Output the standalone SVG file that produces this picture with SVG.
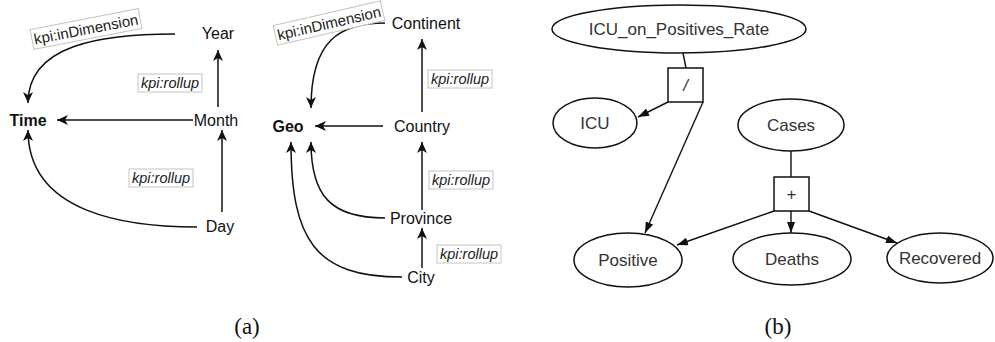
<svg xmlns="http://www.w3.org/2000/svg" width="995" height="342" viewBox="0 0 995 342">
<style>
.n{font-family:"Liberation Sans",Arial,sans-serif;font-size:16px;fill:#111;text-anchor:middle;dominant-baseline:central}
.b{font-weight:bold}
.el{font-family:"Liberation Sans",Arial,sans-serif;font-size:14.5px;font-style:italic;fill:#222;text-anchor:middle;dominant-baseline:central}
.ed{font-family:"Liberation Sans",Arial,sans-serif;font-size:15px;fill:#222;text-anchor:middle;dominant-baseline:central}
.lb{fill:#fff;stroke:#c4c4c4;stroke-width:1}
.ca{fill:none;stroke:#111;stroke-width:1.5;marker-end:url(#ah)}
.g{fill:none;stroke:#111;stroke-width:1.4}
.ga{fill:none;stroke:#111;stroke-width:1.4;marker-end:url(#gh)}
.e{fill:#fff;stroke:#111;stroke-width:1.5}
.t{font-family:"Liberation Sans",Arial,sans-serif;font-size:17px;fill:#333;text-anchor:middle;dominant-baseline:central}
.cap{font-family:"Liberation Serif","Times New Roman",serif;font-size:23px;fill:#111;text-anchor:middle}
</style>
<defs>
<marker id="ah" viewBox="0 0 11 10" refX="11" refY="5" markerWidth="11" markerHeight="10" markerUnits="userSpaceOnUse" orient="auto">
<path d="M0,0 L11,5 L0,10 L3,5 z" fill="#111"/>
</marker>
<marker id="gh" viewBox="0 0 11 8" refX="11" refY="4" markerWidth="11" markerHeight="8" markerUnits="userSpaceOnUse" orient="auto">
<path d="M0,0 L11,4 L0,8 z" fill="#111"/>
</marker>
</defs>
<g id="connectors">
<path class="ca" d="M175,34 C100,34 28,45 28,103"/>
<path class="ca" d="M193,120 L57,120"/>
<path class="ca" d="M218,107 L218,50"/>
<path class="ca" d="M222,212 L222,130"/>
<path class="ca" d="M197,227 C130,227 28,215 28,130"/>
<path class="ca" d="M385,23 C340,23 311,40 311,108"/>
<path class="ca" d="M383,126 L315,126"/>
<path class="ca" d="M422,112 L422,39"/>
<path class="ca" d="M422,210 L422,142"/>
<path class="ca" d="M422,268 L422,228"/>
<path class="ca" d="M385,218 C330,218 311,195 311,142"/>
<path class="ca" d="M402,277 C315,277 291,240 291,142"/>
<path class="g" d="M683,53 L686,68"/>
<path class="ga" d="M668,102 L638,117"/>
<path class="ga" d="M703,102 L645,233"/>
<path class="g" d="M791,151 L791,177"/>
<path class="ga" d="M791,211 L791,233"/>
<path class="ga" d="M809,211 L897,243"/>
<path class="ga" d="M774,211 L677,245"/>
</g>
<g id="edge-labels">
<g transform="translate(86,29) rotate(-11)"><rect class="lb" x="-55" y="-10" width="110" height="20"/><text class="ed" x="0" y="0">kpi:inDimension</text></g>
<g transform="translate(329,23) rotate(-13)"><rect class="lb" x="-55" y="-10" width="110" height="20"/><text class="ed" x="0" y="0">kpi:inDimension</text></g>
<rect class="lb" x="138" y="74" width="64" height="18"/><text class="el" x="170" y="83">kpi:rollup</text>
<rect class="lb" x="129" y="169" width="64" height="18"/><text class="el" x="161" y="178">kpi:rollup</text>
<rect class="lb" x="428" y="70" width="64" height="18"/><text class="el" x="460" y="79">kpi:rollup</text>
<rect class="lb" x="429" y="171" width="64" height="18"/><text class="el" x="461" y="180">kpi:rollup</text>
<rect class="lb" x="437" y="245" width="64" height="18"/><text class="el" x="469" y="254">kpi:rollup</text>
</g>
<g id="n-year"><text class="n" x="218" y="33">Year</text></g>
<g id="n-time"><text class="n b" x="28" y="120">Time</text></g>
<g id="n-month"><text class="n" x="216" y="120">Month</text></g>
<g id="n-day"><text class="n" x="220" y="226">Day</text></g>
<g id="n-continent"><text class="n" x="426" y="23">Continent</text></g>
<g id="n-geo"><text class="n b" x="288" y="126">Geo</text></g>
<g id="n-country"><text class="n" x="422" y="126">Country</text></g>
<g id="n-province"><text class="n" x="421" y="218">Province</text></g>
<g id="n-city"><text class="n" x="421" y="277">City</text></g>
<g id="n-icu-rate"><ellipse class="e" cx="679" cy="29" rx="127" ry="24"/><text class="t" x="679" y="29">ICU_on_Positives_Rate</text></g>
<g id="op-div"><rect class="e" x="668" y="68" width="35" height="34"/><text class="t" x="685.5" y="85" font-size="19" font-style="italic">/</text></g>
<g id="n-icu"><ellipse class="e" cx="595" cy="123" rx="42" ry="25"/><text class="t" x="595" y="123">ICU</text></g>
<g id="n-cases"><ellipse class="e" cx="791" cy="125" rx="53" ry="26"/><text class="t" x="791" y="125">Cases</text></g>
<g id="op-plus"><rect class="e" x="774" y="177" width="35" height="34"/><text class="t" x="791.5" y="194" font-size="14">+</text></g>
<g id="n-positive"><ellipse class="e" cx="628" cy="260" rx="54" ry="27"/><text class="t" x="628" y="260">Positive</text></g>
<g id="n-deaths"><ellipse class="e" cx="792" cy="259" rx="59" ry="26"/><text class="t" x="792" y="259">Deaths</text></g>
<g id="n-recovered"><ellipse class="e" cx="940" cy="258" rx="53" ry="25"/><text class="t" x="940" y="258">Recovered</text></g>
<g id="captions">
<text class="cap" x="247" y="334">(a)</text>
<text class="cap" x="778" y="334">(b)</text>
</g>
</svg>
